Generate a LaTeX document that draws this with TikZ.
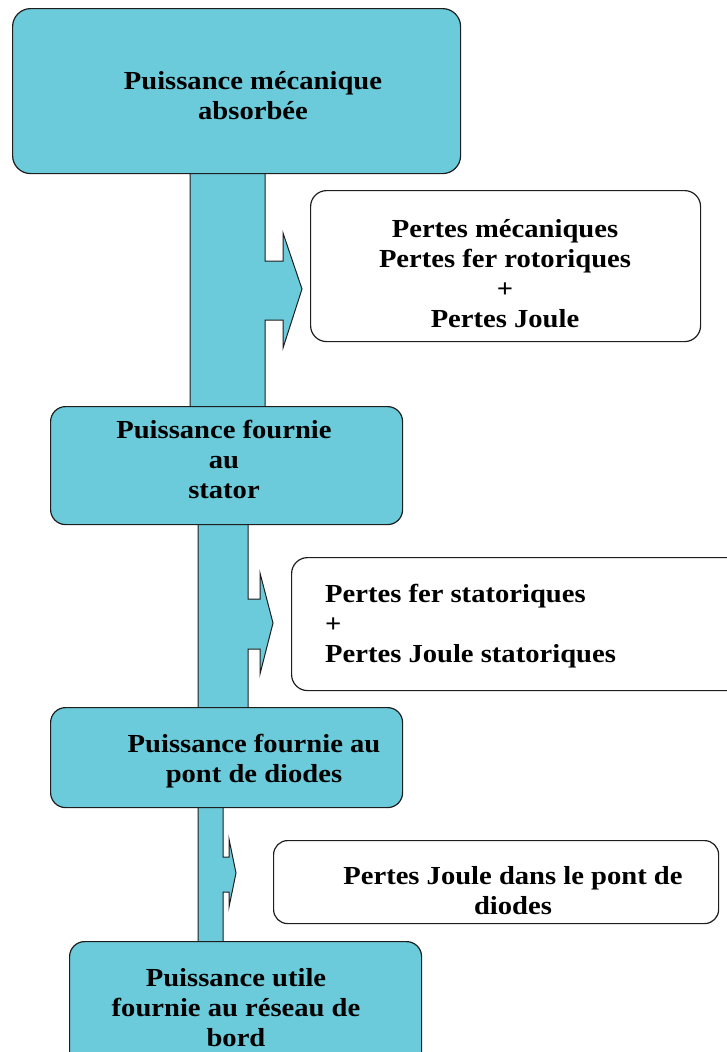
\documentclass[tikz,border=0pt]{standalone}
\usepackage{fontspec}
\setmainfont{Liberation Serif}[FakeStretch=1.1]
\definecolor{flowfill}{RGB}{107,203,219}
\definecolor{edge}{RGB}{30,30,30}
\begin{document}
\begin{tikzpicture}[x=1pt,y=-1pt,
  mainbox/.style={draw=edge, fill=flowfill, line width=1.2pt, rounded corners=18pt, inner sep=0pt, anchor=north west},
  lossbox/.style={draw=edge, fill=white, line width=1.2pt, rounded corners=16pt, inner sep=0pt, anchor=north west},
  stem/.style={draw=edge, fill=flowfill, line width=1pt, line join=miter},
  txt/.style={font=\bfseries\fontsize{26}{30}\selectfont, align=center, inner sep=0pt}]
\useasboundingbox (0,0) rectangle (727,1052);
% stems with side arrows
\path[stem] (190,160) -- (190,420) -- (265,420) -- (265,320) -- (283,320) -- (283,348) -- (302,289)
  -- (283,233) -- (283,261) -- (265,261) -- (265,160) -- cycle;
\path[stem] (198,510) -- (198,720) -- (248,720) -- (248,649) -- (260,649) -- (260,674) -- (273,623)
  -- (260,573) -- (260,599) -- (248,599) -- (248,510) -- cycle;
\path[stem] (198,795) -- (198,955) -- (223,955) -- (223,892) -- (229,892) -- (229,907) -- (236,873)
  -- (229,839) -- (229,857) -- (223,857) -- (223,795) -- cycle;
% boxes
\node[mainbox, minimum width=448pt, minimum height=165pt] (b1) at (12,8) {};
\node[lossbox, minimum width=390pt, minimum height=151pt] (l1) at (310,190) {};
\node[mainbox, rounded corners=15pt, minimum width=352pt, minimum height=118pt] (b2) at (50,406) {};
\node[lossbox, minimum width=454pt, minimum height=133pt] (l2) at (291,557) {};
\node[mainbox, rounded corners=15pt, minimum width=352pt, minimum height=100pt] (b3) at (50,707) {};
\node[lossbox, rounded corners=14pt, minimum width=445pt, minimum height=83pt] (l3) at (273,840) {};
\node[mainbox, rounded corners=15pt, minimum width=352pt, minimum height=129pt] (b4) at (69,941) {};
% texts
\node[txt] (t1) at (253,96) {Puissance mécanique\\absorbée};
\node[txt] (u1) at (505,274) {Pertes mécaniques\\Pertes fer rotoriques\\+\\Pertes Joule};
\node[txt] (t2) at (224,459) {Puissance fournie\\au\\stator};
\node[txt, align=left, anchor=west] (u2) at (325,626) {Pertes fer statoriques\\+\\Pertes Joule statoriques};
\node[txt] (t3) at (254,761) {Puissance fournie au\\pont de diodes};
\node[txt] (u3) at (513,891) {Pertes Joule dans le pont de\\diodes};
\node[txt] (t4) at (236,1008) {Puissance utile\\fournie au réseau de\\bord};
\end{tikzpicture}
\end{document}
